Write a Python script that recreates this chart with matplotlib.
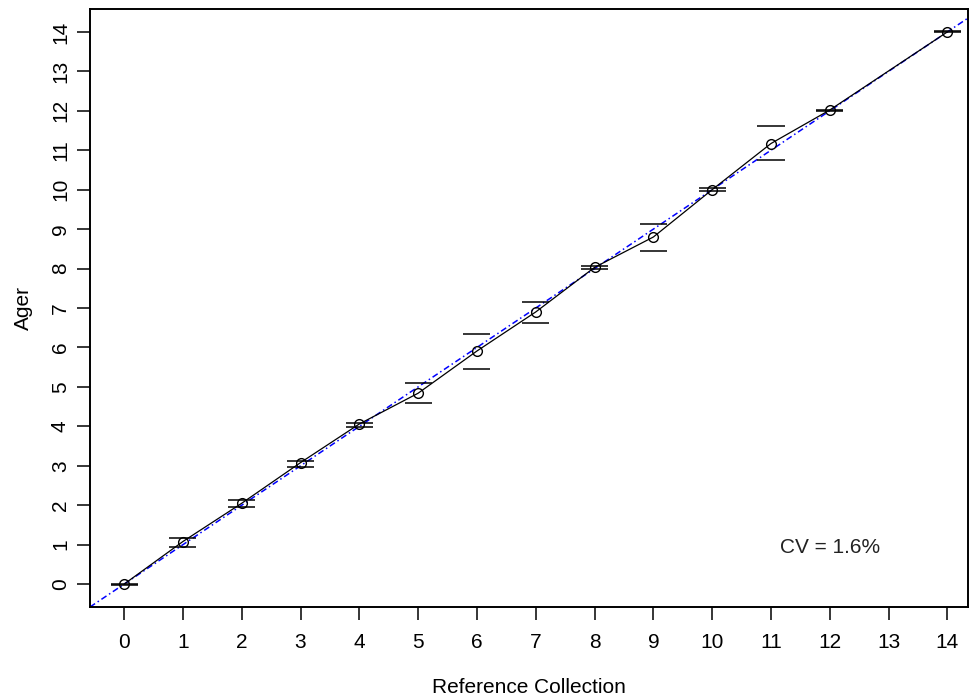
import matplotlib
matplotlib.use("Agg")
import matplotlib.pyplot as plt
import numpy as np

# ages
ref_age = [0, 1, 2, 3, 4, 5, 6, 7, 8, 9, 10, 11, 12, 14]
ager_mean = [0.0, 1.08, 2.05, 3.08, 4.06, 4.84, 5.91, 6.90, 8.03, 8.80, 10.0, 11.17, 12.02, 14.0]
ager_upper = [0.01, 1.18, 2.13, 3.12, 4.09, 5.09, 6.34, 7.15, 8.06, 9.13, 10.03, 11.61, 12.03, 14.01]
ager_lower = [-0.01, 0.95, 1.96, 2.98, 3.99, 4.59, 5.45, 6.62, 7.98, 8.45, 9.97, 10.75, 12.0, 13.99]
tick_vals = list(range(0, 15))
cv_text = "CV = 1.6%"

plt.rcParams["font.family"] = ["Liberation Sans", "DejaVu Sans"]
plt.rcParams["font.size"] = 15

fig = plt.figure(figsize=(9.7, 6.98), dpi=100)
ax = fig.add_axes([90 / 970, 91 / 698, 878 / 970, 598 / 698])

# 1:1 line
ax.axline((0, 0), slope=1, color="#0000ff", lw=1.1, linestyle=(0, (4, 2, 1, 2)), zorder=1)

# means joined by a thin line, open circles
ax.plot(ref_age, ager_mean, color="black", lw=0.9, zorder=2)
ax.plot(ref_age, ager_mean, "o", mfc="none", mec="black", ms=7, mew=1.0, zorder=3)

# error bar caps
half = 0.23
x = np.array(ref_age, dtype=float)
ax.hlines(ager_upper, x - half, x + half, color="black", lw=1.1, zorder=3)
ax.hlines(ager_lower, x - half, x + half, color="black", lw=1.1, zorder=3)

ax.text(12.0, 0.92, cv_text, ha="center", va="center", fontsize=15, color="#222222")

ax.set_xlim(-0.58, 14.35)
ax.set_ylim(-0.58, 14.58)
ax.set_xticks(tick_vals)
ax.set_yticks(tick_vals)
ax.set_xticklabels([str(v) for v in tick_vals])
ax.set_yticklabels([str(v) for v in tick_vals], rotation=90, va="center")
ax.tick_params(direction="out", length=9.4, width=1.1, labelsize=15)
ax.tick_params(axis="x", pad=9)
ax.tick_params(axis="y", pad=5)

for s in ax.spines.values():
    s.set_linewidth(1.4)

ax.set_xlabel("Reference Collection", fontsize=15, labelpad=19)
ax.set_ylabel("Ager", fontsize=15, labelpad=13)

fig.savefig("out.png", dpi=100)
